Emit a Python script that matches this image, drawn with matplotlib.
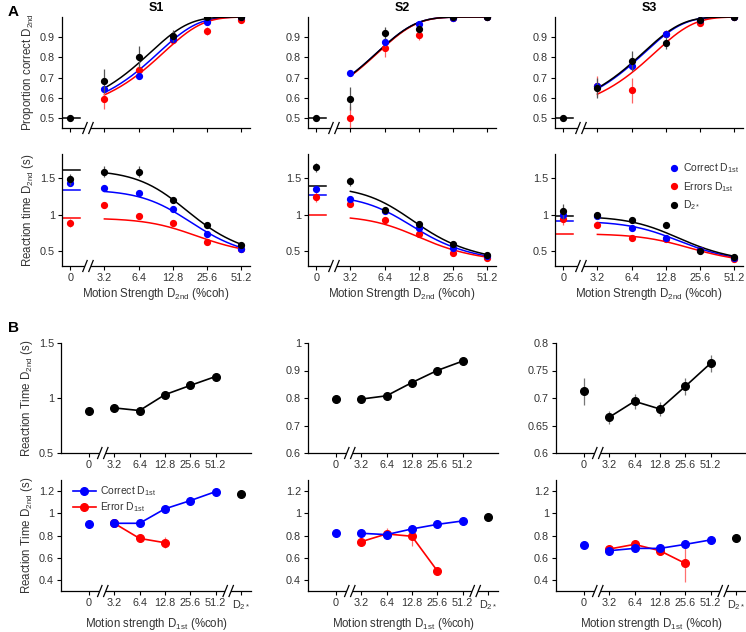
import numpy as np
import matplotlib
matplotlib.use('Agg')
import matplotlib.pyplot as plt
from matplotlib.lines import Line2D
from matplotlib.patches import Rectangle
from matplotlib.transforms import IdentityTransform

plt.rcParams['font.family'] = ['Liberation Sans', 'DejaVu Sans']
plt.rcParams['mathtext.fontset'] = 'custom'
plt.rcParams['mathtext.rm'] = 'Liberation Sans'
plt.rcParams['mathtext.it'] = 'Liberation Sans:italic'
plt.rcParams['mathtext.bf'] = 'Liberation Sans:bold'

# ---------------- data ----------------
subjects = ['S1', 'S2', 'S3']
coh_labels = ['0', '3.2', '6.4', '12.8', '25.6', '51.2']
coh_nonzero = [3.2, 6.4, 12.8, 25.6, 51.2]
b_labels = ['0', '3.2', '6.4', '12.8', '25.6', '51.2', 'D$_{2*}$']

# Panel A top: proportion correct D2nd (at 3.2..51.2), 0% point at chance
acc_zero = [0.5, 0.5, 0.5]
acc_correct = [[0.644, 0.710, 0.893, 0.975, 1.0],
               [0.723, 0.875, 0.963, 0.995, 1.0],
               [0.657, 0.756, 0.918, 0.984, 1.0]]
acc_error = [[0.596, 0.735, 0.885, 0.930, 0.987],
             [0.500, 0.844, 0.910, 0.997, 1.0],
             [0.660, 0.636, 0.915, 0.970, 0.998]]
acc_d2 = [[0.682, 0.802, 0.908, 1.0, 1.0],
          [0.596, 0.921, 0.943, 1.0, 1.0],
          [0.649, 0.784, 0.872, 0.984, 1.0]]
acc_correct_err = [[0.01, 0.01, 0.01, 0.005, 0.003],
                   [0.01, 0.02, 0.01, 0.004, 0.0],
                   [0.01, 0.01, 0.01, 0.005, 0.0]]
acc_error_err = [[0.05, 0.03, 0.02, 0.02, 0.01],
                 [0.06, 0.04, 0.025, 0.01, 0.0],
                 [0.05, 0.06, 0.02, 0.01, 0.005]]
acc_d2_err = [[0.06, 0.055, 0.03, 0.005, 0.005],
              [0.055, 0.03, 0.02, 0.0, 0.0],
              [0.05, 0.05, 0.03, 0.01, 0.0]]
# fitted sensitivity (logistic slope per unit coherence)
acc_fit_correct = [16.0, 28.0, 18.5]
acc_fit_error = [14.5, 27.5, 15.0]
acc_fit_d2 = [19.0, 28.0, 19.0]

# Panel A bottom: reaction time D2nd (0, 3.2..51.2)
rt_correct = [[1.436, 1.368, 1.295, 1.073, 0.741, 0.536],
              [1.355, 1.218, 1.045, 0.818, 0.550, 0.432],
              [0.991, 0.977, 0.823, 0.686, 0.523, 0.414]]
rt_error = [[0.886, 1.127, 0.977, 0.886, 0.627, 0.536],
            [1.241, 1.150, 0.932, 0.732, 0.482, 0.414],
            [0.936, 0.855, 0.686, 0.673, 0.514, 0.400]]
rt_d2 = [[1.482, 1.590, 1.590, 1.195, 0.855, 0.582],
         [1.650, 1.455, 1.068, 0.877, 0.605, 0.445],
         [1.045, 0.991, 0.923, 0.855, 0.505, 0.423]]
rt_correct_err = [[0.03, 0.02, 0.02, 0.02, 0.01, 0.01],
                  [0.03, 0.02, 0.02, 0.02, 0.01, 0.01],
                  [0.03, 0.02, 0.02, 0.02, 0.01, 0.01]]
rt_error_err = [[0.05, 0.04, 0.03, 0.03, 0.02, 0.01],
                [0.07, 0.04, 0.03, 0.03, 0.02, 0.01],
                [0.08, 0.03, 0.02, 0.02, 0.02, 0.01]]
rt_d2_err = [[0.08, 0.07, 0.07, 0.03, 0.02, 0.015],
             [0.06, 0.06, 0.03, 0.02, 0.02, 0.01],
             [0.10, 0.05, 0.04, 0.02, 0.02, 0.01]]
# fitted diffusion model: (kB, non-decision time, B^2)
rt_fit_correct = [(9.0, 0.33, 1.015), (15.0, 0.31, 0.963), (10.0, 0.30, 0.614)]
rt_fit_error = [(8.0, 0.40, 0.555), (13.0, 0.32, 0.671), (8.0, 0.30, 0.441)]
rt_fit_d2 = [(9.7, 0.34, 1.274), (14.5, 0.31, 1.081), (10.0, 0.30, 0.682)]

# Panel B top: RT D2nd vs motion strength D1st (0, 3.2..51.2)
b1_rt = [[0.886, 0.910, 0.886, 1.030, 1.114, 1.195],
         [0.796, 0.796, 0.808, 0.856, 0.900, 0.934],
         [0.712, 0.665, 0.694, 0.680, 0.721, 0.763]]
b1_err = [[0.012, 0.012, 0.012, 0.012, 0.012, 0.012],
          [0.015, 0.010, 0.010, 0.012, 0.012, 0.012],
          [0.024, 0.012, 0.014, 0.013, 0.015, 0.016]]
b1_ylim = [(0.5, 1.5), (0.6, 1.0), (0.6, 0.8)]
b1_yticks = [[0.5, 1.0, 1.5], [0.6, 0.7, 0.8, 0.9, 1.0],
             [0.6, 0.65, 0.7, 0.75, 0.8]]
b1_yticklabels = [['0.5', '1', '1.5'], ['0.6', '0.7', '0.8', '0.9', '1'],
                  ['0.6', '0.65', '0.7', '0.75', '0.8']]

# Panel B bottom: split by D1st outcome
b2_correct = [[0.900, 0.910, 0.910, 1.040, 1.114, 1.195],
              [0.826, 0.820, 0.808, 0.859, 0.900, 0.931],
              [0.714, 0.663, 0.684, 0.684, 0.720, 0.760]]
b2_correct_err = [[0.01] * 6, [0.01] * 6, [0.01] * 6]
b2_error = [[0.910, 0.774, 0.735],
            [0.744, 0.814, 0.793, 0.483],
            [0.678, 0.720, 0.663, 0.549]]
b2_error_err = [[0.02, 0.02, 0.05],
                [0.02, 0.05, 0.09, 0.02],
                [0.02, 0.02, 0.04, 0.17]]
b2_d2 = [1.174, 0.964, 0.780]
b2_d2_err = [0.02, 0.012, 0.012]

# ---------------- style ----------------
BLUE = '#0000ff'
RED = '#ff0000'
BLACK = '#000000'
TICKC = '#333333'
W, H = 746, 632

fig = plt.figure(figsize=(W / 100, H / 100), dpi=100)


def rect(left, top, width, bottom):
    return [left / W, 1 - bottom / H, width / W, (bottom - top) / H]


def style_axis(ax):
    for s in ['top', 'right']:
        ax.spines[s].set_visible(False)
    for s in ['left', 'bottom']:
        ax.spines[s].set_linewidth(0.9)
    ax.tick_params(direction='out', length=3, width=0.8, labelsize=7.8,
                   labelcolor=TICKC, pad=2)


def add_break(ax, xdata):
    y0 = ax.get_ylim()[0]
    xd, yd = ax.transData.transform((xdata, y0))
    r = Rectangle((xd - 3, yd - 2), 6, 4, transform=IdentityTransform(),
                  facecolor='white', edgecolor='none', zorder=20, clip_on=False)
    ax.add_patch(r)
    for s in (-3, 3):
        ln = Line2D([xd + s - 2.2, xd + s + 2.2], [yd - 5.5, yd + 5.5],
                    transform=IdentityTransform(), color='black', lw=0.9,
                    zorder=21, clip_on=False)
        ax.add_line(ln)


def pos(c):
    return 1 + np.log2(np.asarray(c) / 3.2)


A_left = [62, 308, 555]
B_left = [61, 308, 556]
cc = np.geomspace(3.2, 51.2, 200)
xx = pos(cc)
xp = pos(coh_nonzero)


def eb(ax, x, y, e, color, ecolor, ms=4.2, z=3):
    ax.errorbar(x, y, yerr=e, fmt='o', color=color, ms=ms, mec=color,
                ecolor=ecolor, elinewidth=0.9, capsize=0, zorder=z)


labelfs = 8.3
for i in range(3):
    # ---- A top: accuracy ----
    ax = fig.add_axes(rect(A_left[i], 17, 188, 128))
    style_axis(ax)
    ax.set_xlim(-0.24, 5.26)
    ax.set_ylim(0.45, 1.0)
    ax.set_yticks([0.5, 0.6, 0.7, 0.8, 0.9])
    ax.set_yticklabels(['0.5', '0.6', '0.7', '0.8', '0.9'])
    ax.set_xticks(range(6))
    ax.set_xticklabels([])
    for a, col in [(acc_fit_correct[i], BLUE), (acc_fit_error[i], RED),
                   (acc_fit_d2[i], BLACK)]:
        ax.plot(xx, 1 / (1 + np.exp(-a * cc / 100)), color=col, lw=1.1, zorder=2)
    ax.plot([-0.3, 0.3], [acc_zero[i]] * 2, color=BLACK, lw=1.1)
    eb(ax, [0], [acc_zero[i]], None, BLACK, '#555555', z=5)
    eb(ax, xp, acc_error[i], acc_error_err[i], RED, '#ff6060', z=3)
    eb(ax, xp, acc_correct[i], acc_correct_err[i], BLUE, '#6060ff', z=4)
    eb(ax, xp, acc_d2[i], acc_d2_err[i], BLACK, '#555555', z=5)
    ax.set_title(subjects[i], fontsize=9, fontweight='bold', pad=4)
    if i == 0:
        ax.set_ylabel('Proportion correct D$_{\\mathrm{2nd}}$', fontsize=labelfs,
                      color='#333333', labelpad=3)
    add_break(ax, 0.52)

    # ---- A bottom: RT ----
    ax = fig.add_axes(rect(A_left[i], 154, 188, 266))
    style_axis(ax)
    ax.set_xlim(-0.24, 5.26)
    ax.set_ylim(0.3, 1.83)
    ax.set_yticks([0.5, 1.0, 1.5])
    ax.set_yticklabels(['0.5', '1', '1.5'])
    ax.set_xticks(range(6))
    ax.set_xticklabels(coh_labels)
    for (kb, tnd, d), col in [(rt_fit_correct[i], BLUE), (rt_fit_error[i], RED),
                              (rt_fit_d2[i], BLACK)]:
        xk = kb * cc / 100
        ax.plot(xx, tnd + d * np.tanh(xk) / xk, color=col, lw=1.1, zorder=2)
        ax.plot([-0.3, 0.3], [tnd + d] * 2, color=col, lw=1.1, zorder=2)
    xall = [0] + list(xp)
    eb(ax, xall, rt_error[i], rt_error_err[i], RED, '#ff6060', z=3)
    eb(ax, xall, rt_correct[i], rt_correct_err[i], BLUE, '#6060ff', z=4)
    eb(ax, xall, rt_d2[i], rt_d2_err[i], BLACK, '#555555', z=5)
    ax.set_xlabel('Motion Strength D$_{\\mathrm{2nd}}$ (%coh)', fontsize=labelfs,
                  color='#333333', labelpad=2)
    if i == 0:
        ax.set_ylabel('Reaction time D$_{\\mathrm{2nd}}$ (s)', fontsize=labelfs,
                      color='#333333', labelpad=3)
    if i == 2:
        hs = [Line2D([], [], marker='o', ls='', color=c, ms=4.2) for c in (BLUE, RED, BLACK)]
        ax.legend(hs, ['Correct D$_{\\mathrm{1st}}$', 'Errors D$_{\\mathrm{1st}}$',
                       'D$_{\\mathrm{2*}}$'],
                  loc='upper right', bbox_to_anchor=(1.0, 0.97), frameon=False,
                  fontsize=7.5, handletextpad=0.3, labelspacing=0.45,
                  handlelength=1.0, borderaxespad=0, labelcolor='#333333')
    add_break(ax, 0.52)

    # ---- B top ----
    ax = fig.add_axes(rect(B_left[i], 343, 190, 453))
    style_axis(ax)
    ax.set_xlim(-1.1, 6.4)
    ax.set_ylim(*b1_ylim[i])
    ax.set_yticks(b1_yticks[i])
    ax.set_yticklabels(b1_yticklabels[i])
    ax.set_xticks(range(6))
    ax.set_xticklabels(coh_labels)
    ax.plot(range(1, 6), b1_rt[i][1:], color=BLACK, lw=1.2, zorder=2)
    eb(ax, list(range(6)), b1_rt[i], b1_err[i], BLACK, '#777777', ms=5.5)
    if i == 0:
        ax.set_ylabel('Reaction Time D$_{\\mathrm{2nd}}$ (s)', fontsize=labelfs,
                      color='#333333', labelpad=3)
    add_break(ax, 0.55)

    # ---- B bottom ----
    ax = fig.add_axes(rect(B_left[i], 480, 190, 591))
    style_axis(ax)
    ax.set_xlim(-1.1, 6.4)
    ax.set_ylim(0.3, 1.3)
    ax.set_yticks([0.4, 0.6, 0.8, 1.0, 1.2])
    ax.set_yticklabels(['0.4', '0.6', '0.8', '1', '1.2'])
    ax.set_xticks(range(7))
    ax.set_xticklabels(b_labels)
    ne = len(b2_error[i])
    ax.plot(range(1, 1 + ne), b2_error[i], color=RED, lw=1.2, zorder=2)
    eb(ax, list(range(1, 1 + ne)), b2_error[i], b2_error_err[i], RED, '#ff7070', ms=5.5, z=3)
    ax.plot(range(1, 6), b2_correct[i][1:], color=BLUE, lw=1.2, zorder=4)
    eb(ax, list(range(6)), b2_correct[i], b2_correct_err[i], BLUE, '#7070ff', ms=5.5, z=5)
    eb(ax, [6], [b2_d2[i]], [b2_d2_err[i]], BLACK, '#777777', ms=5.5, z=5)
    ax.set_xlabel('Motion strength D$_{\\mathrm{1st}}$ (%coh)', fontsize=labelfs,
                  color='#333333', labelpad=3)
    if i == 0:
        ax.set_ylabel('Reaction Time D$_{\\mathrm{2nd}}$ (s)', fontsize=labelfs,
                      color='#333333', labelpad=3)
        hs = [Line2D([], [], marker='o', color=c, ms=5.5, lw=1.2) for c in (BLUE, RED)]
        ax.legend(hs, ['Correct D$_{\\mathrm{1st}}$', 'Error D$_{\\mathrm{1st}}$'],
                  loc='upper left', bbox_to_anchor=(0.04, 1.0), frameon=False,
                  fontsize=7.5, handletextpad=0.4, labelspacing=0.25,
                  handlelength=2.2, borderaxespad=0, labelcolor='#333333')
    add_break(ax, 0.55)
    add_break(ax, 5.5)

fig.text(8 / W, 1 - 12 / H, 'A', fontsize=11, fontweight='bold', va='center')
fig.text(8 / W, 1 - 328 / H, 'B', fontsize=11, fontweight='bold', va='center')

fig.savefig('out.png', dpi=100)
